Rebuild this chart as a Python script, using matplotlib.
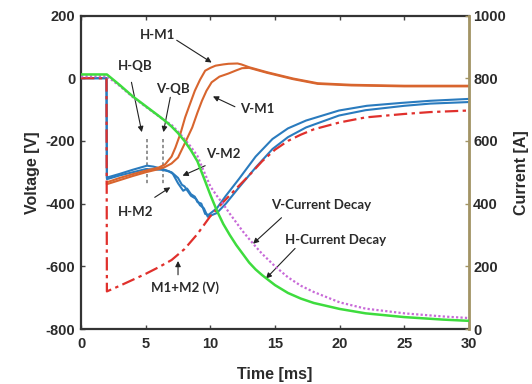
import matplotlib
matplotlib.use("Agg")
import matplotlib.pyplot as plt

# ---------------- data ----------------
# Voltage curves [V] vs time [ms]
t_hm1 = [2.0, 3, 4, 5, 6, 6.5, 7.0, 7.3, 7.7, 8.05, 8.4, 8.8, 9.2, 9.6, 10.0, 10.4, 11.0, 11.4, 12.1, 12.4, 13.0, 14.4, 15.5, 16.4, 18.3, 20.9, 25, 30]
v_hm1 = [-332, -318, -306, -295, -285, -275, -250, -221, -175, -125, -85, -40, -5, 24, 33, 40, 44, 46, 47, 44, 35, 19, 8, -1, -16, -21, -24, -24]

t_vm1 = [2.0, 3, 4, 5, 6, 6.5, 7.0, 7.5, 8.0, 8.6, 9.0, 9.35, 9.7, 10.1, 10.7, 11.4, 12.0, 12.45, 13.0, 14.4, 15.5, 16.4, 18.3, 20.9, 25, 30]
v_vm1 = [-338, -325, -312, -300, -290, -283, -272, -253, -210, -157, -110, -72, -40, -13, 5, 15, 25, 32, 33, 17, 6, -3, -18, -23, -26, -26]

t_hm2 = [0, 1.97, 2.0, 3, 4, 5.1, 5.6, 6.25, 6.8, 7.1, 7.5, 7.9, 8.2, 8.5, 8.8, 9.0, 9.3, 9.6, 9.85, 10.5, 11.2, 12.2, 13.5, 14.8, 16.0, 17.4, 19.95, 22.1, 24.7, 27, 30]
v_hm2 = [0, 0, -317, -305, -292, -279, -282, -289, -297, -305, -335, -359, -352, -370, -378, -395, -400, -433, -436, -415, -375, -322, -250, -194, -160, -135, -103, -88, -79, -72, -66]

t_vm2 = [0, 1.97, 2.0, 3, 4, 5, 6.2, 6.6, 7.0, 7.5, 7.8, 8.0, 8.5, 8.9, 9.2, 9.5, 9.8, 10.5, 11.2, 12.2, 13.5, 14.8, 16.0, 17.4, 19.95, 22, 25, 27, 30]
v_vm2 = [0, 0, -322, -310, -300, -290, -292, -295, -300, -318, -340, -345, -375, -385, -405, -415, -442, -430, -400, -349, -285, -226, -188, -157, -119, -102, -88, -81, -76]

t_sum = [0, 1.97, 2.0, 3, 4, 5, 6, 7, 8, 9, 10, 11, 12, 13, 14, 15, 16, 17, 18, 20, 22, 25, 27, 30]
v_sum = [0, 0, -680, -662, -643, -624, -603, -580, -545, -497, -440, -395, -352, -310, -265, -228, -200, -180, -163, -141, -125, -114, -108, -103]

# Current decay curves [A] vs time [ms]
t_cur = [0, 2, 3, 4, 5, 6, 6.5, 7, 7.5, 8, 8.5, 9, 9.5, 10, 10.5, 11, 11.5, 12, 12.5, 13, 13.5, 14, 15, 16, 17, 18, 20, 22, 25, 28, 30]
i_h = [812, 812, 778, 742, 711, 680, 664, 646, 625, 600, 570, 535, 482, 428, 378, 335, 300, 268, 240, 212, 190, 172, 140, 115, 97, 83, 64, 50, 38, 30, 26]
i_v = [806, 806, 775, 740, 709, 679, 664, 651, 630, 606, 581, 552, 503, 455, 425, 398, 368, 340, 312, 287, 263, 240, 200, 165, 138, 118, 85, 65, 50, 40, 35]

# Quench-back markers: time [ms], voltage span [V]
qb_times = [5.08, 6.37]
qb_span = [-193, -342]

x_ticks = [0, 5, 10, 15, 20, 25, 30]
v_ticks = [200, 0, -200, -400, -600, -800]
i_ticks = [0, 200, 400, 600, 800, 1000]

# ---------------- style ----------------
ORANGE = "#D8652E"
BLUE = "#2A7BBE"
RED = "#E0302C"
GREEN = "#3EDC3E"
MAGENTA = "#C86AD8"
RIGHT_SPINE = "#A39465"
TXT = "#2b2b2b"

tick_font = dict(family="Liberation Sans", weight="bold", size=10.5)
ann_font = dict(family="Lato", weight="bold", size=9.5, color=TXT)

fig = plt.figure(figsize=(5.32, 3.84), dpi=100)
ax = fig.add_axes([0.1523, 0.1432, 0.7293, 0.8164])
ax2 = ax.twinx()

# voltage lines
ax.plot(t_vm2, v_vm2, color=BLUE, lw=1.5, zorder=3)
ax.plot(t_hm2, v_hm2, color=BLUE, lw=1.5, zorder=3)
ax.plot(t_vm1, v_vm1, color=ORANGE, lw=1.5, zorder=3)
ax.plot(t_hm1, v_hm1, color=ORANGE, lw=1.5, zorder=3)
ax.plot(t_sum, v_sum, color=RED, lw=1.6, ls=(0, (6, 2, 1.5, 2)), zorder=4)
for tq in qb_times:
    ax.plot([tq, tq], qb_span, color="#808080", lw=1.2, ls=(0, (2, 1.5)), zorder=2)

# current lines
ax2.plot(t_cur, i_v, color=MAGENTA, lw=1.6, ls=(0, (1, 1)), zorder=3)
ax2.plot(t_cur, i_h, color=GREEN, lw=1.8, zorder=3)

ax.set_xlim(0, 30)
ax.set_ylim(-800, 200)
ax2.set_ylim(0, 1000)
ax.set_xticks(x_ticks)
ax.set_xticklabels([str(v) for v in x_ticks], **tick_font, color=TXT)
ax.set_yticks(v_ticks)
ax.set_yticklabels([str(v) for v in v_ticks], **tick_font, color=TXT)
ax2.set_yticks(i_ticks)
ax2.set_yticklabels([str(v) for v in i_ticks], **tick_font, color=TXT)

ax.tick_params(axis="both", direction="in", length=3, width=1, color="#444444", top=True, pad=6)
ax.tick_params(axis="y", pad=4)
ax2.tick_params(axis="y", direction="in", length=3, width=1, color=RIGHT_SPINE, pad=3)

for s in ["left", "bottom", "top"]:
    ax.spines[s].set_linewidth(1.6)
    ax.spines[s].set_color("#333333")
ax2.spines["right"].set_color(RIGHT_SPINE)
ax2.spines["right"].set_linewidth(2.0)
for s in ["left", "bottom", "top"]:
    ax2.spines[s].set_visible(False)

ax.set_xlabel("Time [ms]", family="Liberation Sans", weight="bold", size=11.5, color=TXT, labelpad=11)
ax.set_ylabel("Voltage [V]", family="Liberation Sans", weight="bold", size=11.5, color=TXT, labelpad=4)
ax2.set_ylabel("Current [A]", family="Liberation Sans", weight="bold", size=11.5, color=TXT, labelpad=6)

# annotations (voltage-axis data coords): label, text pos, arrow start, arrow tip
annotations = [
    ("H-M1", (5.95, 137), (7.4, 121), (10.1, 50)),
    ("H-QB", (4.2, 40), (3.9, -13), (4.7, -172)),
    ("V-QB", (7.14, -34), (6.9, -61), (6.37, -172)),
    ("V-M1", (13.6, -98), (11.9, -91), (10.2, -58)),
    ("V-M2", (11.0, -242), (9.6, -279), (7.85, -311)),
    ("H-M2", (4.2, -428), (5.7, -380), (6.9, -348)),
    ("M1+M2 (V)", (8.05, -668), (7.5, -627), (7.5, -583)),
    ("V-Current Decay", (18.6, -403), (15.5, -445), (13.3, -528)),
    ("H-Current Decay", (19.7, -516), (16.55, -543), (14.3, -639)),
]
for label, tpos, start, tip in annotations:
    ax.text(tpos[0], tpos[1], label, ha="center", va="center", zorder=6, **ann_font)
    ax.annotate("", xy=tip, xytext=start, zorder=6,
                arrowprops=dict(arrowstyle="-|>", color="#222222", lw=0.8,
                                mutation_scale=8, shrinkA=0, shrinkB=0))

fig.savefig("out.png", dpi=100)
